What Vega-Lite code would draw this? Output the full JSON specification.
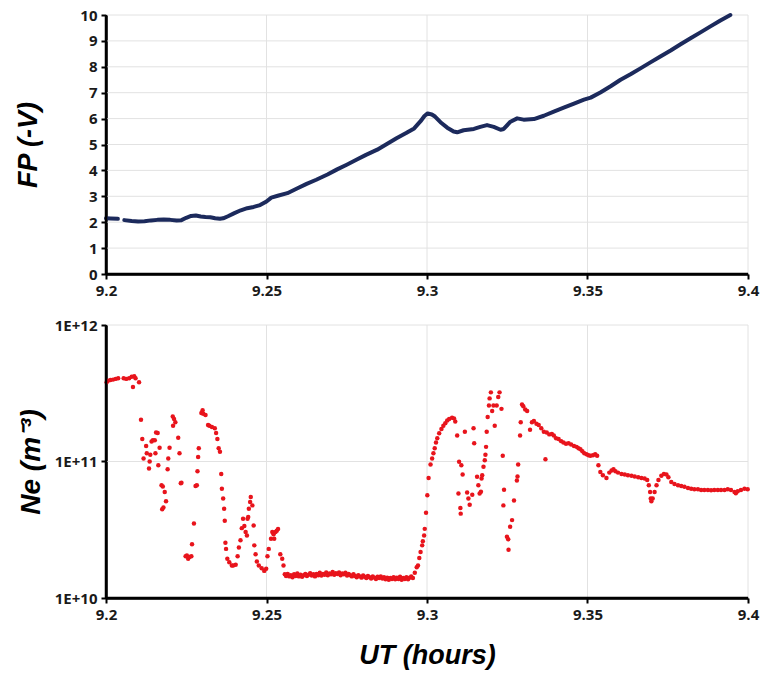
{
  "$schema": "https://vega.github.io/schema/vega-lite/v6.json",
  "padding": {"left": 14, "top": 8, "right": 8, "bottom": 5},
  "spacing": 20,
  "background": "white",
  "config": {
    "view": {"stroke": null},
    "axis": {
      "domain": true, "domainColor": "#000000", "domainWidth": 2.5,
      "ticks": true, "tickColor": "#000000", "tickWidth": 2, "tickSize": 5,
      "grid": false, "labelFlush": false, "labelOverlap": false,
      "labelFont": "Open Sans", "labelFontWeight": "bold", "labelFontSize": 15, "labelColor": "#1a1a1a",
      "titleFont": "Liberation Sans", "titleFontStyle": "italic", "titleFontWeight": "bold", "titleFontSize": 27, "titleColor": "#000000"
    }
  },
  "datasets": {
    "gx": [{"x": 9.25}, {"x": 9.3}, {"x": 9.35}, {"x": 9.4}],
    "gy1": [{"y": 1}, {"y": 2}, {"y": 3}, {"y": 4}, {"y": 5}, {"y": 6}, {"y": 7}, {"y": 8}, {"y": 9}, {"y": 10}],
    "gy2": [{"y": 1e11}, {"y": 1e12}],
    "ax": [{"x": 9.2}],
    "ay1": [{"y": 0}],
    "ay2": [{"y": 1e10}],
    "fp": [
      {"t": 9.2000, "fp": 2.15, "seg": 1}, {"t": 9.2015, "fp": 2.14, "seg": 1}, {"t": 9.2037, "fp": 2.13, "seg": 1},
      {"t": 9.2057, "fp": 2.08, "seg": 2}, {"t": 9.2080, "fp": 2.05, "seg": 2}, {"t": 9.2100, "fp": 2.03, "seg": 2},
      {"t": 9.2120, "fp": 2.04, "seg": 2}, {"t": 9.2140, "fp": 2.07, "seg": 2}, {"t": 9.2160, "fp": 2.09, "seg": 2},
      {"t": 9.2180, "fp": 2.10, "seg": 2}, {"t": 9.2200, "fp": 2.09, "seg": 2}, {"t": 9.2220, "fp": 2.07, "seg": 2},
      {"t": 9.2235, "fp": 2.08, "seg": 2}, {"t": 9.2250, "fp": 2.17, "seg": 2}, {"t": 9.2265, "fp": 2.24, "seg": 2},
      {"t": 9.2280, "fp": 2.26, "seg": 2}, {"t": 9.2295, "fp": 2.22, "seg": 2}, {"t": 9.2310, "fp": 2.20, "seg": 2},
      {"t": 9.2325, "fp": 2.19, "seg": 2}, {"t": 9.2340, "fp": 2.15, "seg": 2}, {"t": 9.2355, "fp": 2.13, "seg": 2},
      {"t": 9.2365, "fp": 2.15, "seg": 2}, {"t": 9.2380, "fp": 2.23, "seg": 2}, {"t": 9.2400, "fp": 2.35, "seg": 2},
      {"t": 9.2420, "fp": 2.46, "seg": 2}, {"t": 9.2440, "fp": 2.54, "seg": 2}, {"t": 9.2460, "fp": 2.59, "seg": 2},
      {"t": 9.2480, "fp": 2.66, "seg": 2}, {"t": 9.2500, "fp": 2.80, "seg": 2}, {"t": 9.2515, "fp": 2.95, "seg": 2},
      {"t": 9.2535, "fp": 3.02, "seg": 2}, {"t": 9.2565, "fp": 3.12, "seg": 2}, {"t": 9.2595, "fp": 3.30, "seg": 2},
      {"t": 9.2625, "fp": 3.48, "seg": 2}, {"t": 9.2655, "fp": 3.64, "seg": 2}, {"t": 9.2690, "fp": 3.84, "seg": 2},
      {"t": 9.2720, "fp": 4.04, "seg": 2}, {"t": 9.2750, "fp": 4.22, "seg": 2}, {"t": 9.2780, "fp": 4.41, "seg": 2},
      {"t": 9.2810, "fp": 4.60, "seg": 2}, {"t": 9.2845, "fp": 4.80, "seg": 2}, {"t": 9.2875, "fp": 5.02, "seg": 2},
      {"t": 9.2905, "fp": 5.24, "seg": 2}, {"t": 9.2935, "fp": 5.44, "seg": 2}, {"t": 9.2960, "fp": 5.62, "seg": 2},
      {"t": 9.2980, "fp": 5.90, "seg": 2}, {"t": 9.2992, "fp": 6.10, "seg": 2}, {"t": 9.3002, "fp": 6.20, "seg": 2},
      {"t": 9.3015, "fp": 6.16, "seg": 2}, {"t": 9.3025, "fp": 6.08, "seg": 2}, {"t": 9.3042, "fp": 5.86, "seg": 2},
      {"t": 9.3063, "fp": 5.65, "seg": 2}, {"t": 9.3083, "fp": 5.50, "seg": 2}, {"t": 9.3094, "fp": 5.47, "seg": 2},
      {"t": 9.3114, "fp": 5.55, "seg": 2}, {"t": 9.3146, "fp": 5.60, "seg": 2}, {"t": 9.3166, "fp": 5.68, "seg": 2},
      {"t": 9.3187, "fp": 5.75, "seg": 2}, {"t": 9.3208, "fp": 5.68, "seg": 2}, {"t": 9.3229, "fp": 5.57, "seg": 2},
      {"t": 9.3239, "fp": 5.60, "seg": 2}, {"t": 9.3260, "fp": 5.88, "seg": 2}, {"t": 9.3281, "fp": 6.01, "seg": 2},
      {"t": 9.3301, "fp": 5.96, "seg": 2}, {"t": 9.3333, "fp": 5.98, "seg": 2}, {"t": 9.3364, "fp": 6.11, "seg": 2},
      {"t": 9.3395, "fp": 6.27, "seg": 2}, {"t": 9.3426, "fp": 6.42, "seg": 2}, {"t": 9.3458, "fp": 6.58, "seg": 2},
      {"t": 9.3489, "fp": 6.73, "seg": 2}, {"t": 9.3510, "fp": 6.81, "seg": 2}, {"t": 9.3540, "fp": 7.01, "seg": 2},
      {"t": 9.3572, "fp": 7.25, "seg": 2}, {"t": 9.3603, "fp": 7.50, "seg": 2}, {"t": 9.3634, "fp": 7.71, "seg": 2},
      {"t": 9.3665, "fp": 7.94, "seg": 2}, {"t": 9.3696, "fp": 8.17, "seg": 2}, {"t": 9.3727, "fp": 8.40, "seg": 2},
      {"t": 9.3759, "fp": 8.63, "seg": 2}, {"t": 9.3790, "fp": 8.87, "seg": 2}, {"t": 9.3821, "fp": 9.10, "seg": 2},
      {"t": 9.3852, "fp": 9.33, "seg": 2}, {"t": 9.3883, "fp": 9.56, "seg": 2}, {"t": 9.3914, "fp": 9.79, "seg": 2},
      {"t": 9.3945, "fp": 10.0, "seg": 2}
    ],
    "ne": [
      {"t": 9.2002, "ne": 3.81e11}, {"t": 9.2006, "ne": 3.90e11}, {"t": 9.2014, "ne": 3.95e11}, {"t": 9.2022, "ne": 3.98e11},
      {"t": 9.2030, "ne": 4.03e11}, {"t": 9.2038, "ne": 4.07e11}, {"t": 9.2055, "ne": 4.07e11}, {"t": 9.2063, "ne": 4.03e11},
      {"t": 9.2072, "ne": 4.07e11}, {"t": 9.2080, "ne": 4.17e11}, {"t": 9.2084, "ne": 3.52e11}, {"t": 9.2088, "ne": 4.22e11},
      {"t": 9.2092, "ne": 4.07e11}, {"t": 9.2103, "ne": 3.81e11}, {"t": 9.2109, "ne": 2.02e11}, {"t": 9.2113, "ne": 1.46e11},
      {"t": 9.2117, "ne": 1.05e11}, {"t": 9.2125, "ne": 1.30e11}, {"t": 9.2127, "ne": 1.15e11}, {"t": 9.2134, "ne": 8.89e10},
      {"t": 9.2136, "ne": 1.00e11}, {"t": 9.2138, "ne": 1.12e11}, {"t": 9.2142, "ne": 1.40e11}, {"t": 9.2146, "ne": 1.43e11},
      {"t": 9.2152, "ne": 1.43e11}, {"t": 9.2154, "ne": 1.15e11}, {"t": 9.2156, "ne": 1.63e11}, {"t": 9.2161, "ne": 1.62e11},
      {"t": 9.2163, "ne": 9.40e10}, {"t": 9.2167, "ne": 1.26e11}, {"t": 9.2173, "ne": 6.70e10}, {"t": 9.2175, "ne": 4.47e10},
      {"t": 9.2177, "ne": 6.55e10}, {"t": 9.2179, "ne": 4.61e10}, {"t": 9.2183, "ne": 5.98e10}, {"t": 9.2187, "ne": 5.11e10},
      {"t": 9.2192, "ne": 8.79e10}, {"t": 9.2194, "ne": 1.05e11}, {"t": 9.2198, "ne": 1.26e11}, {"t": 9.2208, "ne": 2.14e11},
      {"t": 9.2209, "ne": 1.83e11}, {"t": 9.2212, "ne": 2.05e11}, {"t": 9.2216, "ne": 1.94e11}, {"t": 9.2225, "ne": 1.49e11},
      {"t": 9.2229, "ne": 1.15e11}, {"t": 9.2233, "ne": 6.93e10}, {"t": 9.2235, "ne": 7.00e10}, {"t": 9.2248, "ne": 2.02e10},
      {"t": 9.2252, "ne": 2.05e10}, {"t": 9.2256, "ne": 1.94e10}, {"t": 9.2260, "ne": 2.00e10}, {"t": 9.2266, "ne": 2.02e10},
      {"t": 9.2268, "ne": 2.48e10}, {"t": 9.2274, "ne": 3.52e10}, {"t": 9.2279, "ne": 6.62e10}, {"t": 9.2283, "ne": 6.70e10},
      {"t": 9.2285, "ne": 8.49e10}, {"t": 9.2287, "ne": 1.08e11}, {"t": 9.2289, "ne": 1.25e11}, {"t": 9.2297, "ne": 2.27e11},
      {"t": 9.2301, "ne": 2.37e11}, {"t": 9.2303, "ne": 2.24e11}, {"t": 9.2310, "ne": 2.19e11}, {"t": 9.2318, "ne": 1.85e11},
      {"t": 9.2322, "ne": 1.83e11}, {"t": 9.2330, "ne": 1.79e11}, {"t": 9.2339, "ne": 1.75e11}, {"t": 9.2343, "ne": 1.62e11},
      {"t": 9.2347, "ne": 1.46e11}, {"t": 9.2351, "ne": 1.25e11}, {"t": 9.2355, "ne": 1.18e11}, {"t": 9.2359, "ne": 8.11e10},
      {"t": 9.2361, "ne": 6.32e10}, {"t": 9.2365, "ne": 5.35e10}, {"t": 9.2368, "ne": 4.51e10}, {"t": 9.2370, "ne": 3.68e10},
      {"t": 9.2372, "ne": 2.54e10}, {"t": 9.2374, "ne": 2.29e10}, {"t": 9.2378, "ne": 1.94e10}, {"t": 9.2384, "ne": 1.83e10},
      {"t": 9.2392, "ne": 1.73e10}, {"t": 9.2396, "ne": 1.73e10}, {"t": 9.2404, "ne": 1.75e10}, {"t": 9.2410, "ne": 2.02e10},
      {"t": 9.2414, "ne": 2.34e10}, {"t": 9.2419, "ne": 2.65e10}, {"t": 9.2423, "ne": 3.25e10}, {"t": 9.2427, "ne": 3.81e10},
      {"t": 9.2431, "ne": 3.37e10}, {"t": 9.2435, "ne": 3.04e10}, {"t": 9.2439, "ne": 2.87e10}, {"t": 9.2441, "ne": 3.81e10},
      {"t": 9.2443, "ne": 3.92e10}, {"t": 9.2445, "ne": 4.51e10}, {"t": 9.2449, "ne": 5.05e10}, {"t": 9.2451, "ne": 5.50e10},
      {"t": 9.2456, "ne": 4.77e10}, {"t": 9.2460, "ne": 3.40e10}, {"t": 9.2462, "ne": 2.43e10}, {"t": 9.2466, "ne": 2.09e10},
      {"t": 9.2470, "ne": 1.85e10}, {"t": 9.2476, "ne": 1.73e10}, {"t": 9.2485, "ne": 1.65e10}, {"t": 9.2493, "ne": 1.58e10},
      {"t": 9.2499, "ne": 1.64e10}, {"t": 9.2503, "ne": 2.02e10}, {"t": 9.2507, "ne": 2.29e10}, {"t": 9.2514, "ne": 2.72e10},
      {"t": 9.2518, "ne": 3.04e10}, {"t": 9.2522, "ne": 2.93e10}, {"t": 9.2524, "ne": 2.72e10}, {"t": 9.2528, "ne": 3.04e10},
      {"t": 9.2532, "ne": 3.11e10}, {"t": 9.2536, "ne": 3.20e10}, {"t": 9.2543, "ne": 2.09e10}, {"t": 9.2549, "ne": 1.94e10},
      {"t": 9.2553, "ne": 1.73e10}, {"t": 9.2557, "ne": 1.49e10},
      {"t": 9.2561, "ne": 1.45e10}, {"t": 9.2566, "ne": 1.50e10}, {"t": 9.2571, "ne": 1.44e10}, {"t": 9.2576, "ne": 1.47e10},
      {"t": 9.2581, "ne": 1.42e10}, {"t": 9.2586, "ne": 1.49e10}, {"t": 9.2591, "ne": 1.45e10}, {"t": 9.2596, "ne": 1.51e10},
      {"t": 9.2601, "ne": 1.44e10}, {"t": 9.2606, "ne": 1.48e10}, {"t": 9.2611, "ne": 1.43e10}, {"t": 9.2616, "ne": 1.47e10},
      {"t": 9.2621, "ne": 1.50e10}, {"t": 9.2626, "ne": 1.45e10}, {"t": 9.2631, "ne": 1.48e10}, {"t": 9.2636, "ne": 1.52e10},
      {"t": 9.2641, "ne": 1.46e10}, {"t": 9.2646, "ne": 1.49e10}, {"t": 9.2651, "ne": 1.44e10}, {"t": 9.2656, "ne": 1.50e10},
      {"t": 9.2661, "ne": 1.47e10}, {"t": 9.2666, "ne": 1.53e10}, {"t": 9.2671, "ne": 1.46e10}, {"t": 9.2676, "ne": 1.50e10},
      {"t": 9.2681, "ne": 1.48e10}, {"t": 9.2686, "ne": 1.54e10}, {"t": 9.2691, "ne": 1.47e10}, {"t": 9.2696, "ne": 1.51e10},
      {"t": 9.2701, "ne": 1.49e10}, {"t": 9.2706, "ne": 1.55e10}, {"t": 9.2711, "ne": 1.48e10}, {"t": 9.2716, "ne": 1.52e10},
      {"t": 9.2721, "ne": 1.50e10}, {"t": 9.2726, "ne": 1.54e10}, {"t": 9.2731, "ne": 1.47e10}, {"t": 9.2736, "ne": 1.51e10},
      {"t": 9.2741, "ne": 1.49e10}, {"t": 9.2746, "ne": 1.53e10}, {"t": 9.2751, "ne": 1.46e10}, {"t": 9.2756, "ne": 1.50e10},
      {"t": 9.2761, "ne": 1.47e10}, {"t": 9.2766, "ne": 1.44e10}, {"t": 9.2771, "ne": 1.49e10}, {"t": 9.2776, "ne": 1.45e10},
      {"t": 9.2781, "ne": 1.42e10}, {"t": 9.2786, "ne": 1.47e10}, {"t": 9.2791, "ne": 1.44e10}, {"t": 9.2796, "ne": 1.41e10},
      {"t": 9.2801, "ne": 1.46e10}, {"t": 9.2806, "ne": 1.43e10}, {"t": 9.2811, "ne": 1.40e10}, {"t": 9.2816, "ne": 1.45e10},
      {"t": 9.2821, "ne": 1.42e10}, {"t": 9.2826, "ne": 1.39e10}, {"t": 9.2831, "ne": 1.44e10}, {"t": 9.2836, "ne": 1.41e10},
      {"t": 9.2841, "ne": 1.38e10}, {"t": 9.2846, "ne": 1.43e10}, {"t": 9.2851, "ne": 1.40e10}, {"t": 9.2856, "ne": 1.44e10},
      {"t": 9.2861, "ne": 1.39e10}, {"t": 9.2866, "ne": 1.42e10}, {"t": 9.2871, "ne": 1.37e10}, {"t": 9.2876, "ne": 1.41e10},
      {"t": 9.2881, "ne": 1.36e10}, {"t": 9.2886, "ne": 1.40e10}, {"t": 9.2891, "ne": 1.38e10}, {"t": 9.2896, "ne": 1.42e10},
      {"t": 9.2901, "ne": 1.37e10}, {"t": 9.2906, "ne": 1.41e10}, {"t": 9.2911, "ne": 1.38e10}, {"t": 9.2916, "ne": 1.43e10},
      {"t": 9.2921, "ne": 1.36e10}, {"t": 9.2926, "ne": 1.40e10}, {"t": 9.2931, "ne": 1.38e10}, {"t": 9.2936, "ne": 1.42e10},
      {"t": 9.2941, "ne": 1.37e10}, {"t": 9.2946, "ne": 1.41e10}, {"t": 9.2951, "ne": 1.44e10}, {"t": 9.2956, "ne": 1.40e10},
      {"t": 9.2962, "ne": 1.53e10}, {"t": 9.2968, "ne": 1.68e10}, {"t": 9.2972, "ne": 1.73e10}, {"t": 9.2976, "ne": 1.96e10},
      {"t": 9.2980, "ne": 2.17e10}, {"t": 9.2985, "ne": 2.43e10}, {"t": 9.2987, "ne": 2.60e10}, {"t": 9.2991, "ne": 2.87e10},
      {"t": 9.2993, "ne": 3.21e10}, {"t": 9.2997, "ne": 4.22e10}, {"t": 9.3001, "ne": 5.65e10}, {"t": 9.3005, "ne": 7.58e10},
      {"t": 9.3011, "ne": 9.50e10}, {"t": 9.3016, "ne": 1.05e11}, {"t": 9.3020, "ne": 1.15e11}, {"t": 9.3024, "ne": 1.25e11},
      {"t": 9.3028, "ne": 1.38e11}, {"t": 9.3032, "ne": 1.48e11}, {"t": 9.3038, "ne": 1.61e11}, {"t": 9.3045, "ne": 1.73e11},
      {"t": 9.3051, "ne": 1.83e11}, {"t": 9.3057, "ne": 1.91e11}, {"t": 9.3063, "ne": 2.00e11}, {"t": 9.3069, "ne": 2.05e11},
      {"t": 9.3078, "ne": 2.09e11}, {"t": 9.3084, "ne": 2.07e11}, {"t": 9.3088, "ne": 1.96e11}, {"t": 9.3094, "ne": 1.55e11},
      {"t": 9.3098, "ne": 5.82e10}, {"t": 9.3100, "ne": 9.96e10}, {"t": 9.3104, "ne": 4.56e10}, {"t": 9.3105, "ne": 4.15e10},
      {"t": 9.3107, "ne": 9.40e10}, {"t": 9.3111, "ne": 8.02e10}, {"t": 9.3118, "ne": 1.65e11}, {"t": 9.3125, "ne": 5.92e10},
      {"t": 9.3129, "ne": 5.35e10}, {"t": 9.3133, "ne": 4.83e10}, {"t": 9.3141, "ne": 5.70e10}, {"t": 9.3145, "ne": 1.75e11},
      {"t": 9.3147, "ne": 1.36e11}, {"t": 9.3156, "ne": 7.72e10}, {"t": 9.3160, "ne": 6.70e10}, {"t": 9.3164, "ne": 5.82e10},
      {"t": 9.3168, "ne": 6.00e10}, {"t": 9.3170, "ne": 7.50e10}, {"t": 9.3172, "ne": 7.94e10}, {"t": 9.3176, "ne": 9.14e10},
      {"t": 9.3180, "ne": 1.02e11}, {"t": 9.3182, "ne": 1.12e11}, {"t": 9.3184, "ne": 1.28e11}, {"t": 9.3186, "ne": 1.65e11},
      {"t": 9.3189, "ne": 2.12e11}, {"t": 9.3193, "ne": 2.57e11}, {"t": 9.3195, "ne": 2.90e11}, {"t": 9.3199, "ne": 3.21e11},
      {"t": 9.3203, "ne": 2.34e11}, {"t": 9.3207, "ne": 2.57e11}, {"t": 9.3211, "ne": 1.83e11}, {"t": 9.3217, "ne": 2.57e11},
      {"t": 9.3222, "ne": 2.97e11}, {"t": 9.3226, "ne": 3.21e11}, {"t": 9.3232, "ne": 2.43e11}, {"t": 9.3236, "ne": 1.10e11},
      {"t": 9.3238, "ne": 4.77e10}, {"t": 9.3240, "ne": 6.22e10}, {"t": 9.3249, "ne": 2.81e10}, {"t": 9.3253, "ne": 2.69e10},
      {"t": 9.3254, "ne": 2.26e10}, {"t": 9.3259, "ne": 3.33e10}, {"t": 9.3265, "ne": 3.72e10}, {"t": 9.3271, "ne": 5.17e10},
      {"t": 9.3280, "ne": 7.25e10}, {"t": 9.3282, "ne": 7.76e10}, {"t": 9.3284, "ne": 9.50e10}, {"t": 9.3290, "ne": 1.55e11},
      {"t": 9.3292, "ne": 1.94e11}, {"t": 9.3296, "ne": 2.62e11}, {"t": 9.3300, "ne": 2.54e11}, {"t": 9.3306, "ne": 2.40e11},
      {"t": 9.3312, "ne": 2.34e11}, {"t": 9.3321, "ne": 1.71e11}, {"t": 9.3327, "ne": 1.94e11}, {"t": 9.3333, "ne": 1.98e11},
      {"t": 9.3341, "ne": 1.89e11}, {"t": 9.3348, "ne": 1.85e11}, {"t": 9.3356, "ne": 1.75e11}, {"t": 9.3364, "ne": 1.65e11},
      {"t": 9.3369, "ne": 1.04e11}, {"t": 9.3373, "ne": 1.63e11}, {"t": 9.3381, "ne": 1.58e11}, {"t": 9.3389, "ne": 1.59e11},
      {"t": 9.3395, "ne": 1.55e11}, {"t": 9.3402, "ne": 1.48e11}, {"t": 9.3410, "ne": 1.46e11}, {"t": 9.3418, "ne": 1.41e11},
      {"t": 9.3425, "ne": 1.38e11}, {"t": 9.3433, "ne": 1.35e11}, {"t": 9.3441, "ne": 1.36e11}, {"t": 9.3449, "ne": 1.33e11},
      {"t": 9.3458, "ne": 1.30e11}, {"t": 9.3466, "ne": 1.28e11}, {"t": 9.3472, "ne": 1.25e11}, {"t": 9.3478, "ne": 1.23e11},
      {"t": 9.3484, "ne": 1.19e11}, {"t": 9.3490, "ne": 1.15e11}, {"t": 9.3497, "ne": 1.13e11}, {"t": 9.3503, "ne": 1.11e11},
      {"t": 9.3509, "ne": 1.10e11}, {"t": 9.3517, "ne": 1.11e11}, {"t": 9.3524, "ne": 1.13e11}, {"t": 9.3530, "ne": 1.10e11},
      {"t": 9.3534, "ne": 9.40e10}, {"t": 9.3540, "ne": 8.39e10}, {"t": 9.3548, "ne": 7.94e10}, {"t": 9.3559, "ne": 7.58e10},
      {"t": 9.3568, "ne": 8.29e10}, {"t": 9.3575, "ne": 8.59e10}, {"t": 9.3581, "ne": 8.79e10}, {"t": 9.3587, "ne": 8.49e10},
      {"t": 9.3595, "ne": 8.29e10}, {"t": 9.3606, "ne": 8.11e10}, {"t": 9.3616, "ne": 8.02e10}, {"t": 9.3626, "ne": 7.94e10},
      {"t": 9.3637, "ne": 7.85e10}, {"t": 9.3647, "ne": 7.76e10}, {"t": 9.3658, "ne": 7.67e10}, {"t": 9.3668, "ne": 7.58e10},
      {"t": 9.3678, "ne": 7.50e10}, {"t": 9.3686, "ne": 7.33e10}, {"t": 9.3691, "ne": 6.70e10}, {"t": 9.3695, "ne": 5.98e10},
      {"t": 9.3697, "ne": 5.35e10}, {"t": 9.3699, "ne": 5.11e10}, {"t": 9.3703, "ne": 5.35e10}, {"t": 9.3709, "ne": 5.98e10},
      {"t": 9.3715, "ne": 6.70e10}, {"t": 9.3721, "ne": 7.33e10}, {"t": 9.3730, "ne": 7.85e10}, {"t": 9.3738, "ne": 8.11e10},
      {"t": 9.3746, "ne": 8.02e10}, {"t": 9.3752, "ne": 7.67e10}, {"t": 9.3761, "ne": 7.08e10}, {"t": 9.3771, "ne": 6.85e10},
      {"t": 9.3782, "ne": 6.70e10}, {"t": 9.3792, "ne": 6.62e10}, {"t": 9.3802, "ne": 6.52e10}, {"t": 9.3813, "ne": 6.40e10},
      {"t": 9.3823, "ne": 6.32e10}, {"t": 9.3833, "ne": 6.26e10}, {"t": 9.3844, "ne": 6.26e10}, {"t": 9.3854, "ne": 6.19e10},
      {"t": 9.3864, "ne": 6.19e10}, {"t": 9.3875, "ne": 6.19e10}, {"t": 9.3885, "ne": 6.16e10}, {"t": 9.3895, "ne": 6.19e10},
      {"t": 9.3906, "ne": 6.19e10}, {"t": 9.3916, "ne": 6.19e10}, {"t": 9.3927, "ne": 6.19e10}, {"t": 9.3937, "ne": 6.26e10},
      {"t": 9.3947, "ne": 6.19e10}, {"t": 9.3958, "ne": 5.98e10}, {"t": 9.3962, "ne": 5.85e10}, {"t": 9.3968, "ne": 6.05e10},
      {"t": 9.3978, "ne": 6.19e10}, {"t": 9.3989, "ne": 6.32e10}, {"t": 9.3999, "ne": 6.26e10}
    ]
  },
  "vconcat": [
    {
      "width": 642,
      "height": 259,
      "layer": [
        {
          "data": {"name": "gx"},
          "mark": {"type": "rule", "color": "#e2e2e2", "strokeWidth": 1},
          "encoding": {
            "x": {
              "field": "x", "type": "quantitative",
              "scale": {"domain": [9.2, 9.4], "nice": false, "zero": false},
              "axis": {"title": null, "domain": true, "ticks": true, "domainColor": "#000000", "tickColor": "#000000", "values": [9.2, 9.25, 9.3, 9.35, 9.4], "format": "~g", "labelPadding": 4}
            }
          }
        },
        {
          "data": {"name": "gy1"},
          "mark": {"type": "rule", "color": "#e2e2e2", "strokeWidth": 1},
          "encoding": {
            "y": {
              "field": "y", "type": "quantitative",
              "scale": {"domain": [0, 10], "nice": false},
              "axis": {"title": "FP (-V)", "titlePadding": 37, "domain": true, "ticks": true, "domainColor": "#000000", "tickColor": "#000000", "values": [0, 1, 2, 3, 4, 5, 6, 7, 8, 9, 10], "format": "d", "labelPadding": 4}
            }
          }
        },
        {
          "data": {"name": "fp"},
          "mark": {"type": "line", "color": "#1c2a5c", "strokeWidth": 4, "strokeCap": "round", "strokeJoin": "round"},
          "encoding": {
            "x": {
              "field": "t", "type": "quantitative",
              "scale": {"domain": [9.2, 9.4], "nice": false, "zero": false},
              "axis": {"title": null, "domain": true, "ticks": true, "domainColor": "#000000", "tickColor": "#000000", "values": [9.2, 9.25, 9.3, 9.35, 9.4], "format": "~g", "labelPadding": 4}
            },
            "y": {
              "field": "fp", "type": "quantitative",
              "scale": {"domain": [0, 10], "nice": false},
              "axis": {"title": "FP (-V)", "titlePadding": 37, "domain": true, "ticks": true, "domainColor": "#000000", "tickColor": "#000000", "values": [0, 1, 2, 3, 4, 5, 6, 7, 8, 9, 10], "format": "d", "labelPadding": 4}
            },
            "detail": {"field": "seg", "type": "nominal"}
          }
        },
        {
          "data": {"name": "ax"},
          "mark": {"type": "rule", "color": "#000000", "strokeWidth": 2.5},
          "encoding": {
            "x": {
              "field": "x", "type": "quantitative",
              "scale": {"domain": [9.2, 9.4], "nice": false, "zero": false},
              "axis": {"title": null, "domain": true, "ticks": true, "domainColor": "#000000", "tickColor": "#000000", "values": [9.2, 9.25, 9.3, 9.35, 9.4], "format": "~g", "labelPadding": 4}
            }
          }
        },
        {
          "data": {"name": "ay1"},
          "mark": {"type": "rule", "color": "#000000", "strokeWidth": 2.5},
          "encoding": {
            "y": {
              "field": "y", "type": "quantitative",
              "scale": {"domain": [0, 10], "nice": false},
              "axis": {"title": "FP (-V)", "titlePadding": 37, "domain": true, "ticks": true, "domainColor": "#000000", "tickColor": "#000000", "values": [0, 1, 2, 3, 4, 5, 6, 7, 8, 9, 10], "format": "d", "labelPadding": 4}
            }
          }
        }
      ]
    },
    {
      "width": 642,
      "height": 273,
      "layer": [
        {
          "data": {"name": "gx"},
          "mark": {"type": "rule", "color": "#e2e2e2", "strokeWidth": 1},
          "encoding": {
            "x": {
              "field": "x", "type": "quantitative",
              "scale": {"domain": [9.2, 9.4], "nice": false, "zero": false},
              "axis": {"title": "UT (hours)", "titlePadding": 20, "domain": true, "ticks": true, "domainColor": "#000000", "tickColor": "#000000", "values": [9.2, 9.25, 9.3, 9.35, 9.4], "format": "~g", "labelPadding": 4}
            }
          }
        },
        {
          "data": {"name": "gy2"},
          "mark": {"type": "rule", "color": "#e2e2e2", "strokeWidth": 1},
          "encoding": {
            "y": {
              "field": "y", "type": "quantitative",
              "scale": {"type": "log", "domain": [1e10, 1e12], "nice": false},
              "axis": {
                "title": "Ne (m⁻³)", "titleFontSize": 28, "titlePadding": 9, "domain": true, "ticks": true, "domainColor": "#000000", "tickColor": "#000000",
                "values": [1e10, 1e11, 1e12],
                "labelExpr": "'1E+' + round(log(datum.value)/LN10)",
                "labelPadding": 4
              }
            }
          }
        },
        {
          "data": {"name": "ne"},
          "mark": {"type": "circle", "color": "#e8141c", "size": 20, "opacity": 1},
          "encoding": {
            "x": {
              "field": "t", "type": "quantitative",
              "scale": {"domain": [9.2, 9.4], "nice": false, "zero": false},
              "axis": {"title": "UT (hours)", "titlePadding": 20, "domain": true, "ticks": true, "domainColor": "#000000", "tickColor": "#000000", "values": [9.2, 9.25, 9.3, 9.35, 9.4], "format": "~g", "labelPadding": 4}
            },
            "y": {
              "field": "ne", "type": "quantitative",
              "scale": {"type": "log", "domain": [1e10, 1e12], "nice": false},
              "axis": {
                "title": "Ne (m⁻³)", "titleFontSize": 28, "titlePadding": 9, "domain": true, "ticks": true, "domainColor": "#000000", "tickColor": "#000000",
                "values": [1e10, 1e11, 1e12],
                "labelExpr": "'1E+' + round(log(datum.value)/LN10)",
                "labelPadding": 4
              }
            }
          }
        },
        {
          "data": {"name": "ax"},
          "mark": {"type": "rule", "color": "#000000", "strokeWidth": 2.5},
          "encoding": {
            "x": {
              "field": "x", "type": "quantitative",
              "scale": {"domain": [9.2, 9.4], "nice": false, "zero": false},
              "axis": {"title": "UT (hours)", "titlePadding": 20, "domain": true, "ticks": true, "domainColor": "#000000", "tickColor": "#000000", "values": [9.2, 9.25, 9.3, 9.35, 9.4], "format": "~g", "labelPadding": 4}
            }
          }
        },
        {
          "data": {"name": "ay2"},
          "mark": {"type": "rule", "color": "#000000", "strokeWidth": 2.5},
          "encoding": {
            "y": {
              "field": "y", "type": "quantitative",
              "scale": {"type": "log", "domain": [1e10, 1e12], "nice": false},
              "axis": {
                "title": "Ne (m⁻³)", "titleFontSize": 28, "titlePadding": 9, "domain": true, "ticks": true, "domainColor": "#000000", "tickColor": "#000000",
                "values": [1e10, 1e11, 1e12],
                "labelExpr": "'1E+' + round(log(datum.value)/LN10)",
                "labelPadding": 4
              }
            }
          }
        }
      ]
    }
  ]
}
